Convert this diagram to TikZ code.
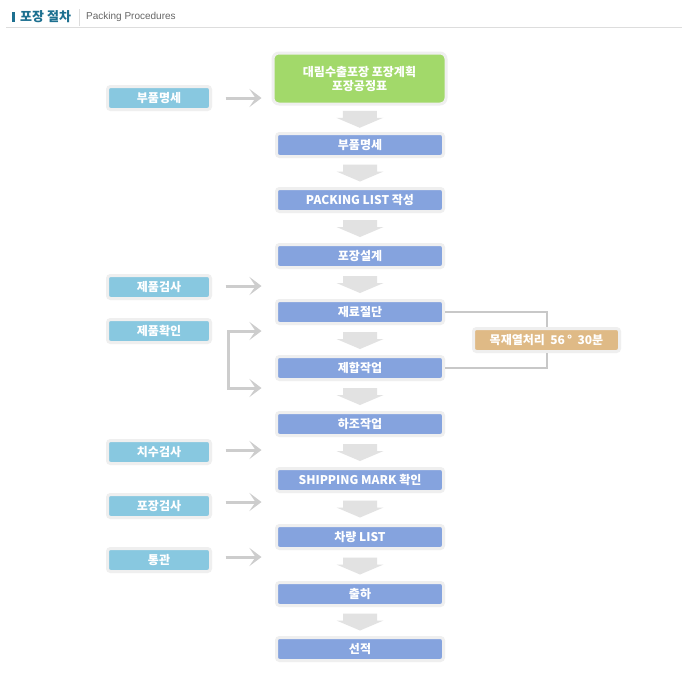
\documentclass[tikz,border=0pt]{standalone}
\usepackage{fontspec}
\setmainfont{Noto Sans CJK KR}
\newfontfamily\arialfont{Liberation Sans}
\usetikzlibrary{arrows.meta,calc}
\definecolor{mainblue}{HTML}{85A3DE}
\definecolor{sideblue}{HTML}{88C8E0}
\definecolor{greenfill}{HTML}{A2D96A}
\definecolor{tanfill}{HTML}{DFBA86}
\definecolor{boxborder}{HTML}{EFEFEF}
\definecolor{downgray}{HTML}{E2E2E2}
\definecolor{arrowgray}{HTML}{CDCDCD}
\definecolor{conngray}{HTML}{C8C8C8}
\definecolor{headteal}{HTML}{1D7090}
\definecolor{headline}{HTML}{DDDDDD}
\definecolor{subgray}{HTML}{666666}
\newcommand\dnarrow[2]{%
  \coordinate (m) at ($(#1.south)!0.5!(#2.north)$);
  \fill[downgray] ($(m)+(-17,-8)$) -- ($(m)+(17,-8)$) -- ($(m)+(17,-1)$) -- ($(m)+(23.5,-1)$) -- ($(m)+(0,9)$) -- ($(m)+(-23.5,-1)$) -- ($(m)+(-17,-1)$) -- cycle;}
\tikzset{
  boxbase/.style={draw=boxborder, line width=3pt, rounded corners=3pt, inner sep=0pt,
    text=white, font=\bfseries\fontsize{12}{14}\selectfont},
  mainbox/.style={boxbase, fill=mainblue, minimum width=167pt, minimum height=23pt},
  sidebox/.style={boxbase, fill=sideblue, minimum width=103pt, minimum height=23pt},
  greenbox/.style={boxbase, fill=greenfill, minimum width=173pt, minimum height=51pt, rounded corners=6pt, align=center},
  tanbox/.style={boxbase, fill=tanfill, minimum width=146pt, minimum height=23pt},
  sidearrow/.style={draw=arrowgray, line width=3pt, -{Stealth[length=12pt,width=18pt,inset=6pt]}},
  bracketarrow/.style={draw=arrowgray, line width=3pt, {Stealth[length=12pt,width=18pt,inset=6pt]}-{Stealth[length=12pt,width=18pt,inset=6pt]}},
  conn/.style={draw=conngray, line width=2pt},
}
\begin{document}
\begin{tikzpicture}[x=1pt,y=-1pt]
\fill[white] (0,0) rectangle (682,678);
\useasboundingbox (0,0) rectangle (682,678);
% header
\fill[headteal] (12,11.5) rectangle (15,22);
\node[anchor=west, inner sep=0pt, text=headteal, font=\bfseries\fontsize{13}{15}\selectfont] (title) at (20,16.5) {포장 절차};
\draw[headline, line width=1pt] (79.5,9) -- (79.5,26);
\node[anchor=west, inner sep=0pt, text=subgray, font=\arialfont\fontsize{10}{12}\selectfont] (subtitle) at (86,16.8) {Packing Procedures};
\draw[headline, line width=1.2pt] (6,27.5) -- (682,27.5);
% main column
\node[greenbox] (g) at (359.5,78.5) {대림수출포장 포장계획\\포장공정표};
\node[mainbox] (m1) at (360,145) {부품명세};
\node[mainbox] (m2) at (360,200) {PACKING LIST 작성};
\node[mainbox] (m3) at (360,256) {포장설계};
\node[mainbox] (m4) at (360,312) {재료절단};
\node[mainbox] (m5) at (360,368) {제합작업};
\node[mainbox] (m6) at (360,424) {하조작업};
\node[mainbox] (m7) at (360,480) {SHIPPING MARK 확인};
\node[mainbox] (m8) at (360,537) {차량 LIST};
\node[mainbox] (m9) at (360,594) {출하};
\node[mainbox] (m10) at (360,649) {선적};
\dnarrow{g}{m1}
\dnarrow{m1}{m2}
\dnarrow{m2}{m3}
\dnarrow{m3}{m4}
\dnarrow{m4}{m5}
\dnarrow{m5}{m6}
\dnarrow{m6}{m7}
\dnarrow{m7}{m8}
\dnarrow{m8}{m9}
\dnarrow{m9}{m10}
% side column
\node[sidebox] (s1) at (159,98) {부품명세};
\node[sidebox] (s2) at (159,287) {제품검사};
\node[sidebox] (s3) at (159,331) {제품확인};
\node[sidebox] (s4) at (159,452) {치수검사};
\node[sidebox] (s5) at (159,506) {포장검사};
\node[sidebox] (s6) at (159,560) {통관};
\draw[sidearrow] ($(s1.east)+(13.5,0)$) -- ++(36,0);
\draw[sidearrow] ($(s2.east)+(13.5,-1)$) -- ++(36,0);
\draw[sidearrow] ($(s4.east)+(13.5,-2)$) -- ++(36,0);
\draw[sidearrow] ($(s5.east)+(13.5,-4)$) -- ++(36,0);
\draw[sidearrow] ($(s6.east)+(13.5,-3)$) -- ++(36,0);
\coordinate (bk) at ($(s3.east)+(16.5,0)$);
\draw[bracketarrow] ($(bk)+(33,0)$) -- (bk) -- ($(bk)+(0,57)$) -- ($(bk)+(33,57)$);
% heat treatment
\node[tanbox] (heat) at (546.5,340) {목재열처리\ \ 56\,°\ \ 30분};
\draw[conn] (m4.east) -| (heat.north);
\draw[conn] (heat.south) |- (m5.east);
\end{tikzpicture}
\end{document}
